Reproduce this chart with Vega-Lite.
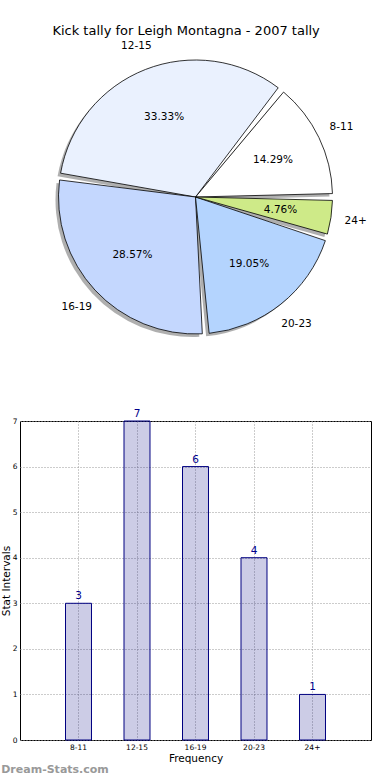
{
  "$schema": "https://vega.github.io/schema/vega-lite/v6.json",
  "padding": {"left": 0, "top": 25, "right": 0, "bottom": 0},
  "background": "white",
  "title": {"text": "Kick tally for Leigh Montagna - 2007 tally", "fontSize": 13, "font": "DejaVu Sans", "fontWeight": "normal", "color": "#000000", "offset": 3, "anchor": "middle"},
  "config": {"font": "DejaVu Sans", "view": {"stroke": null}},
  "spacing": 60,
  "datasets": {
    "kicks": [
      {"interval": "8-11", "count": 3, "pct": "14.29%", "idx": 1},
      {"interval": "12-15", "count": 7, "pct": "33.33%", "idx": 2},
      {"interval": "16-19", "count": 6, "pct": "28.57%", "idx": 3},
      {"interval": "20-23", "count": 4, "pct": "19.05%", "idx": 4},
      {"interval": "24+", "count": 1, "pct": "4.76%", "idx": 5}
    ]
  },
  "vconcat": [
    {
      "width": 351,
      "height": 302,
      "data": {"name": "kicks"},
      "encoding": {
        "theta": {"field": "count", "type": "quantitative", "stack": true, "scale": {"range": [1.5708, 7.8540]}},
        "order": {"field": "idx", "type": "quantitative", "sort": "descending"}
      },
      "layer": [
        {
          "mark": {"type": "arc", "outerRadius": 137, "padAngle": 0.05, "color": "#7a7a7a", "opacity": 0.6, "xOffset": -3, "yOffset": 3}
        },
        {
          "mark": {"type": "arc", "outerRadius": 137, "padAngle": 0.05, "stroke": "#000000", "strokeWidth": 0.8},
          "encoding": {
            "color": {"field": "interval", "type": "nominal", "legend": null,
              "scale": {"domain": ["8-11", "12-15", "16-19", "20-23", "24+"], "range": ["#ffffff", "#eaf1fe", "#c4d7fe", "#b4d4fe", "#ceea88"]}}
          }
        },
        {
          "mark": {"type": "text", "radius": 86, "fontSize": 10.5, "color": "#000000"},
          "encoding": {"text": {"field": "pct"}}
        },
        {
          "mark": {"type": "text", "radius": 162, "fontSize": 10.5, "color": "#000000"},
          "encoding": {"text": {"field": "interval"}}
        }
      ]
    },
    {
      "width": 351,
      "height": 319,
      "view": {"stroke": "#000000", "strokeWidth": 1},
      "data": {"name": "kicks"},
      "title": {"text": "Dream-Stats.com", "orient": "bottom", "anchor": "start", "fontSize": 11, "fontWeight": "bold", "color": "#999999", "offset": 0},
      "encoding": {
        "x": {"field": "interval", "type": "nominal", "sort": ["8-11", "12-15", "16-19", "20-23", "24+"],
          "scale": {"paddingInner": 0.556, "paddingOuter": 0.778},
          "axis": {"title": "Frequency", "titleFontSize": 10.5, "titleFontWeight": "normal", "titleColor": "#000000", "titlePadding": 3,
            "labelFontSize": 7.5, "labelAngle": 0, "labelColor": "#000000", "labelPadding": 3, "ticks": false, "domain": false,
            "grid": true, "gridDash": [1, 2], "gridColor": "#999999", "bandPosition": 0.5}},
        "y": {"field": "count", "type": "quantitative", "scale": {"domain": [0, 7], "nice": false},
          "axis": {"title": "Stat Intervals", "titleFontSize": 10.5, "titleFontWeight": "normal", "titleColor": "#000000", "titlePadding": 1,
            "labelFontSize": 7.5, "labelColor": "#000000", "labelPadding": 3, "ticks": false, "domain": false, "values": [0, 1, 2, 3, 4, 5, 6, 7],
            "grid": true, "gridDash": [1, 2], "gridColor": "#999999"}}
      },
      "layer": [
        {"mark": {"type": "bar", "fill": "#000080", "fillOpacity": 0.2, "stroke": "#000080", "strokeWidth": 1}},
        {"mark": {"type": "text", "dy": -4, "baseline": "alphabetic", "color": "#00008b", "fontSize": 10.5},
          "encoding": {"text": {"field": "count"}}}
      ]
    }
  ]
}
